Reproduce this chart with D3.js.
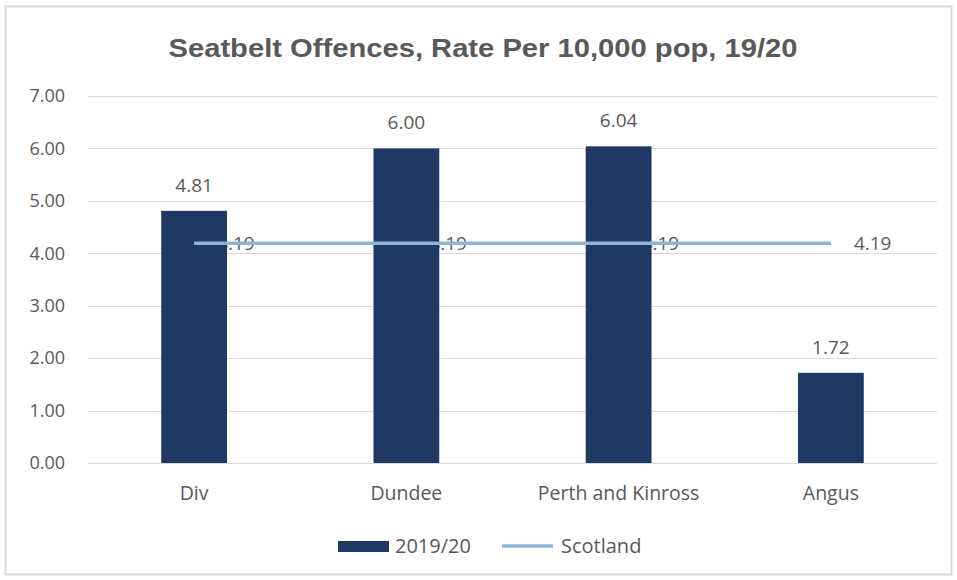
<!DOCTYPE html>
<html>
<head>
<meta charset="utf-8">
<script src="https://cdn.jsdelivr.net/npm/d3@7"></script>
<style>
  body { margin: 0; background: #fff; }
  text { font-family: "Open Sans", "Noto Sans", sans-serif; fill: #595959; }
</style>
</head>
<body>
<script>
var categories = ["Div", "Dundee", "Perth and Kinross", "Angus"];
var rate1920 = [4.81, 6.00, 6.04, 1.72];
var scotland = [4.19, 4.19, 4.19, 4.19];
var yTicks = [0, 1, 2, 3, 4, 5, 6, 7];
var seriesNames = ["2019/20", "Scotland"];

var width = 957, height = 580;
var margin = { top: 96, right: 20, bottom: 117, left: 88 };
var barColor = "#203864", lineColor = "#8fb4d8";

var svg = d3.select("body").append("svg")
  .attr("width", width)
  .attr("height", height);

// frame
svg.append("rect")
  .attr("x", 5.5).attr("y", 6.5)
  .attr("width", 946).attr("height", 568)
  .attr("fill", "#fff")
  .attr("stroke", "#d9d9d9")
  .attr("stroke-width", 2);

svg.append("text")
  .attr("x", 483)
  .attr("y", 57)
  .attr("text-anchor", "middle")
  .style("font-family", "'Liberation Sans', Arial, sans-serif")
  .style("font-weight", "bold")
  .style("font-size", "25px")
  .attr("textLength", 629)
  .attr("lengthAdjust", "spacingAndGlyphs")
  .text("Seatbelt Offences, Rate Per 10,000 pop, 19/20");

var x = d3.scaleBand()
  .domain(categories)
  .range([margin.left, width - margin.right])
  .paddingInner(0.69)
  .paddingOuter(0.345);

var y = d3.scaleLinear()
  .domain([0, 7])
  .range([height - margin.bottom, margin.top]);

var grid = svg.append("g");
grid.selectAll("line")
  .data(yTicks)
  .enter().append("line")
  .attr("x1", margin.left)
  .attr("x2", width - margin.right)
  .attr("y1", function (d) { return Math.round(y(d)) + 0.5; })
  .attr("y2", function (d) { return Math.round(y(d)) + 0.5; })
  .attr("stroke", "#d9d9d9")
  .attr("stroke-width", 1);

grid.selectAll("text")
  .data(yTicks)
  .enter().append("text")
  .attr("x", 65)
  .attr("y", function (d) { return y(d); })
  .attr("dy", "0.35em")
  .attr("text-anchor", "end")
  .style("font-size", "18px")
  .text(function (d) { return d3.format(".2f")(d); });

// x labels
svg.append("g").selectAll("text")
  .data(categories)
  .enter().append("text")
  .attr("x", function (d) { return x(d) + x.bandwidth() / 2; })
  .attr("y", 500)
  .attr("text-anchor", "middle")
  .style("font-size", "19.5px")
  .text(function (d) { return d; });

function cx(i) { return x(categories[i]) + x.bandwidth() / 2; }

// line labels (drawn under the bars)
svg.append("g").selectAll("text")
  .data(scotland)
  .enter().append("text")
  .attr("x", function (d, i) { return cx(i) + 23; })
  .attr("y", function (d) { return y(d); })
  .attr("dy", "0.35em")
  .style("font-size", "19px")
  .text(function (d) { return d.toFixed(2); });

// bars
svg.append("g").selectAll("rect")
  .data(rate1920)
  .enter().append("rect")
  .attr("x", function (d, i) { return x(categories[i]); })
  .attr("y", function (d) { return y(d); })
  .attr("width", x.bandwidth())
  .attr("height", function (d) { return y(0) - y(d); })
  .attr("fill", barColor);

svg.append("g").selectAll("text")
  .data(rate1920)
  .enter().append("text")
  .attr("x", function (d, i) { return cx(i); })
  .attr("y", function (d) { return y(d) - 19; })
  .attr("text-anchor", "middle")
  .style("font-size", "19px")
  .text(function (d) { return d.toFixed(2); });

// Scotland line
var line = d3.line()
  .x(function (d, i) { return cx(i); })
  .y(function (d) { return y(d); });

svg.append("path")
  .datum(scotland)
  .attr("fill", "none")
  .attr("stroke", lineColor)
  .attr("stroke-width", 3.5)
  .attr("d", line);

// legend
var lg = svg.append("g");
lg.append("rect")
  .attr("x", 338).attr("y", 541)
  .attr("width", 51).attr("height", 11)
  .attr("fill", barColor);
lg.append("text")
  .attr("x", 395).attr("y", 546)
  .attr("dy", "0.35em")
  .style("font-size", "20px")
  .text(seriesNames[0]);
lg.append("line")
  .attr("x1", 502).attr("x2", 553)
  .attr("y1", 546).attr("y2", 546)
  .attr("stroke", lineColor)
  .attr("stroke-width", 3.5);
lg.append("text")
  .attr("x", 561).attr("y", 546)
  .attr("dy", "0.35em")
  .style("font-size", "20px")
  .text(seriesNames[1]);
</script>
</body>
</html>
